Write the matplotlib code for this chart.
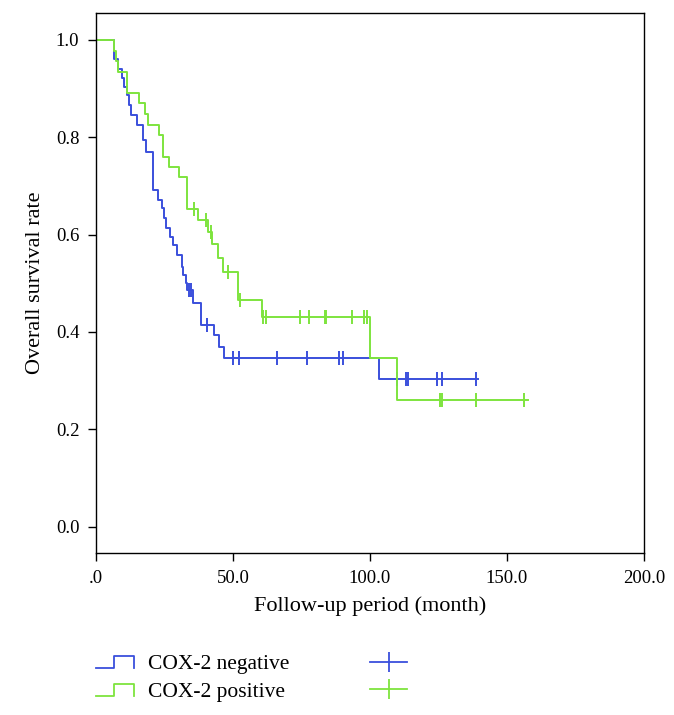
"""
Kaplan-Meier 생존곡선: COX-2 음성/양성군 비교 (out.png).
"""
import numpy as np
import matplotlib
matplotlib.use("Agg")
import matplotlib.pyplot as plt
from matplotlib.legend_handler import HandlerBase
from matplotlib.lines import Line2D

plt.rcParams["font.family"] = ["Liberation Serif", "DejaVu Serif"]

BLUE = "#3a4fdc"
GREEN = "#7ee43e"

# COX-2 negative: 단계 시점(월)과 그 이후 생존율
neg_t = [0, 6.6, 8.0, 9.5, 10.2, 11.3, 12.0, 12.8, 15.0, 17.2, 18.2, 20.8, 22.6, 24.1,
         24.8, 25.5, 27.0, 28.1, 29.6, 31.4, 31.8, 32.8, 33.2, 35.4, 38.3, 43.1, 44.9,
         46.7, 103.3, 139.5]
neg_s = [1.0, 0.961, 0.940, 0.922, 0.903, 0.887, 0.867, 0.846, 0.825, 0.795, 0.770,
         0.692, 0.671, 0.655, 0.634, 0.614, 0.595, 0.579, 0.558, 0.534, 0.517, 0.501,
         0.487, 0.460, 0.415, 0.394, 0.370, 0.347, 0.304, 0.304]
neg_cens = [33.9, 34.8, 40.5, 50.0, 52.2, 66.1, 77.0, 88.7, 90.1, 109.9, 113.1, 113.9,
            124.5, 126.3, 138.7]

# COX-2 positive
pos_t = [0, 6.6, 7.3, 8.0, 11.3, 15.7, 17.9, 19.0, 23.0, 24.5, 26.6, 30.3, 33.2, 37.4,
         40.9, 42.3, 44.5, 46.4, 51.8, 60.6, 100.0, 109.9, 157.7]
pos_s = [1.0, 0.977, 0.957, 0.934, 0.891, 0.871, 0.848, 0.825, 0.805, 0.760, 0.739,
         0.719, 0.653, 0.630, 0.606, 0.580, 0.552, 0.524, 0.466, 0.431, 0.347, 0.261,
         0.261]
pos_cens = [35.8, 40.1, 41.9, 48.2, 52.5, 61.0, 62.2, 74.5, 77.7, 83.6, 84.0, 93.4,
            97.8, 98.9, 125.6, 126.2, 138.7, 156.2]

x_ticks = [0, 50, 100, 150, 200]
x_ticklabels = [".0", "50.0", "100.0", "150.0", "200.0"]
y_ticks = [0.0, 0.2, 0.4, 0.6, 0.8, 1.0]
labels = ["COX-2 negative", "COX-2 positive"]


class StepHandler(HandlerBase):
    # 범례용 계단 모양 아이콘
    def create_artists(self, legend, orig, xd, yd, w, h, fontsize, trans):
        x0, y0 = -xd, -yd
        xs = [x0, x0 + 0.47 * w, x0 + 0.47 * w, x0 + w, x0 + w]
        ys = [y0 + 0.05 * h, y0 + 0.05 * h, y0 + 0.85 * h, y0 + 0.85 * h, y0 + 0.05 * h]
        return [Line2D(xs, ys, color=orig.get_color(), lw=1.3, transform=trans)]


def surv_at(t, s, ct):
    idx = np.searchsorted(t, ct, side="right") - 1
    return np.asarray(s)[idx]


fig = plt.figure(figsize=(6.74, 7.15), dpi=100)
ax = fig.add_axes([96 / 674, 1 - 553 / 715, 548 / 674, 540 / 715])

for t, s, ct, c in [(neg_t, neg_s, neg_cens, BLUE), (pos_t, pos_s, pos_cens, GREEN)]:
    ax.step(t, s, where="post", color=c, lw=1.4)
    ax.plot(ct, surv_at(t, s, ct), ls="none", marker="|", markersize=10,
            markeredgewidth=1.4, color=c)

ax.set_xlim(0, 200)
ax.set_ylim(-0.054, 1.055)
ax.set_xticks(x_ticks)
ax.set_xticklabels(x_ticklabels)
ax.set_yticks(y_ticks)
ax.set_yticklabels([f"{v:.1f}" for v in y_ticks])
ax.tick_params(direction="out", length=6, width=1, labelsize=13.5, pad=6)
for sp in ax.spines.values():
    sp.set_linewidth(1.0)
ax.set_xlabel("Follow-up period (month)", fontsize=16, labelpad=7)
ax.set_ylabel("Overall survival rate", fontsize=16, labelpad=8)

h_neg = Line2D([], [], color=BLUE)
h_pos = Line2D([], [], color=GREEN)
c_neg = Line2D([], [], color=BLUE, lw=1.3, marker="|", markersize=14, markeredgewidth=1.3)
c_pos = Line2D([], [], color=GREEN, lw=1.3, marker="|", markersize=14, markeredgewidth=1.3)
ax.legend(handles=[h_neg, h_pos, c_neg, c_pos], labels=labels + ["", ""], ncol=2,
          handler_map={h_neg: StepHandler(), h_pos: StepHandler()},
          loc="upper left", bbox_to_anchor=(96 / 674, 1 - 654 / 715),
          bbox_transform=fig.transFigure, frameon=False, fontsize=15.5,
          handlelength=1.75, handletextpad=0.65, columnspacing=3.75,
          labelspacing=0.35, borderpad=0, borderaxespad=0)

plt.savefig("out.png", dpi=100)
plt.close()
